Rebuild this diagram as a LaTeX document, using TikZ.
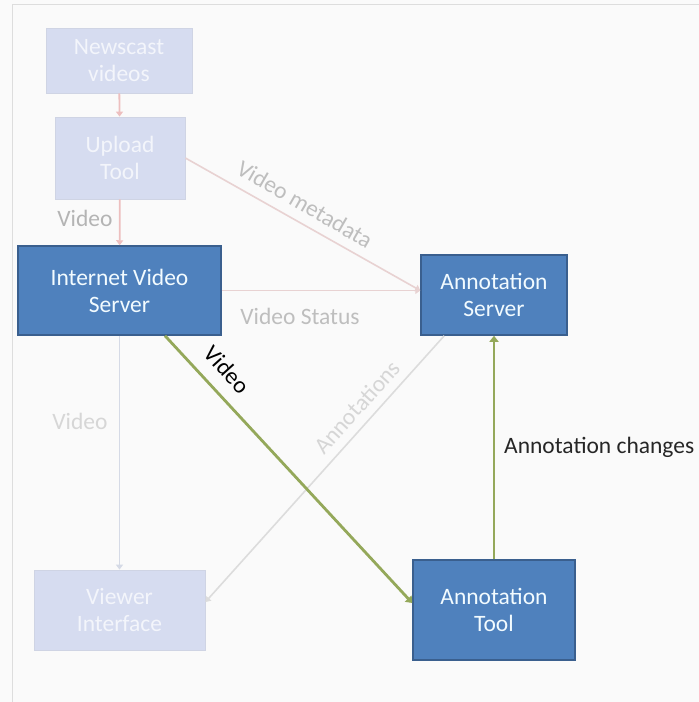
\documentclass[tikz,border=0pt]{standalone}
\usepackage{fontspec}
\setmainfont{Carlito}
\usetikzlibrary{arrows.meta}
\definecolor{bgc}{HTML}{FAFAFA}
\definecolor{framec}{HTML}{DDDDDD}
\definecolor{darkfill}{HTML}{4F81BD}
\definecolor{darkdraw}{HTML}{3A5F8E}
\definecolor{darktext}{HTML}{F2FBFF}
\definecolor{fadefill}{HTML}{D6DCF0}
\definecolor{fadedraw}{HTML}{CFD4E4}
\definecolor{fadetext}{HTML}{F3F5FB}
\definecolor{pinkc}{HTML}{EDBFBF}
\definecolor{pinkgray}{HTML}{E8D2D2}
\definecolor{lightblue}{HTML}{D5DAE6}
\definecolor{lightgray}{HTML}{DCDCDC}
\definecolor{greenc}{HTML}{94A85A}
\definecolor{labgray}{HTML}{B4B4B4}
\definecolor{labgray2}{HTML}{BEBEBE}
\definecolor{labgray3}{HTML}{D6D6D6}
\tikzset{
  txt/.style={font=\fontsize{23.5}{27}\selectfont, align=center, inner sep=0pt},
  darkbox/.style={txt, rectangle, fill=darkfill, draw=darkdraw, line width=1.5pt, text=darktext},
  fadebox/.style={txt, rectangle, fill=fadefill, draw=fadedraw, line width=0.8pt, text=fadetext},
  tip/.style={-{Triangle[width=7pt,length=5pt]}},
  pinkarrow/.style={tip, draw=pinkc, line width=1.8pt},
  pinkline/.style={tip, draw=pinkgray, line width=1.6pt},
  bluearrow/.style={tip, draw=lightblue, line width=1.6pt},
  grayarrow/.style={tip, draw=lightgray, line width=1.6pt},
  greenarrow/.style={-{Triangle[width=9pt,length=6pt]}, draw=greenc, line width=2.8pt},
  lab/.style={txt}
}
\begin{document}
\begin{tikzpicture}[x=1pt,y=-1pt]
\fill[bgc] (0,0) rectangle (699,702);
\useasboundingbox (0,0) rectangle (699,702);
\draw[framec, line width=1pt] (699,4) -- (12,4) -- (12,702);

% boxes
\node[fadebox, minimum width=146, minimum height=65] (news) at (119,60.5) {Newscast\\videos};
\node[fadebox, minimum width=130, minimum height=82] (upload) at (120,158) {Upload\\Tool};
\node[darkbox, minimum width=203, minimum height=89] (ivs) at (119.5,290.5) {Internet Video\\Server};
\node[darkbox, minimum width=146, minimum height=80] (as) at (494,295) {Annotation\\Server};
\node[fadebox, minimum width=171, minimum height=80] (viewer) at (119.5,610) {Viewer\\Interface};
\node[darkbox, minimum width=162, minimum height=100] (at) at (494,610) {Annotation\\Tool};

% helper coordinates
\coordinate (asin) at (ivs.east -| as.west);
\coordinate (asout) at ([xshift=24]as.south west);
\coordinate (viewin) at ([yshift=8]viewer.east);
\coordinate (ivsout) at ([xshift=45.5]ivs.south);
\coordinate (atin) at ([yshift=7]at.west);

% connectors
\draw[pinkarrow] (news) -- (upload);
\draw[pinkarrow] (upload) -- (ivs);
\draw[pinkline] (upload.east) -- (asin);
\draw[pinkline] (ivs.east) -- (asin);
\draw[bluearrow] (ivs) -- (viewer);
\draw[grayarrow] (asout) -- (viewin);
\draw[greenarrow] (ivsout) -- (atin);
\draw[greenarrow] (at) -- (as);

% labels
\node[lab, text=labgray] (l1) at (85,218) {Video};
\node[lab, text=labgray2, rotate=-30] (l2) at (305,204) {Video metadata};
\node[lab, text=labgray2] (l3) at (300,316) {Video Status};
\node[lab, text=labgray3] (l4) at (80,421) {Video};
\node[lab, text=labgray3, rotate=48] (l5) at (357,407) {Annotations};
\node[lab, text=black, rotate=-48] (l6) at (227,370) {Video};
\node[lab, text=black!85, anchor=west] (l7) at (504,447) {Annotation changes};
\end{tikzpicture}
\end{document}
